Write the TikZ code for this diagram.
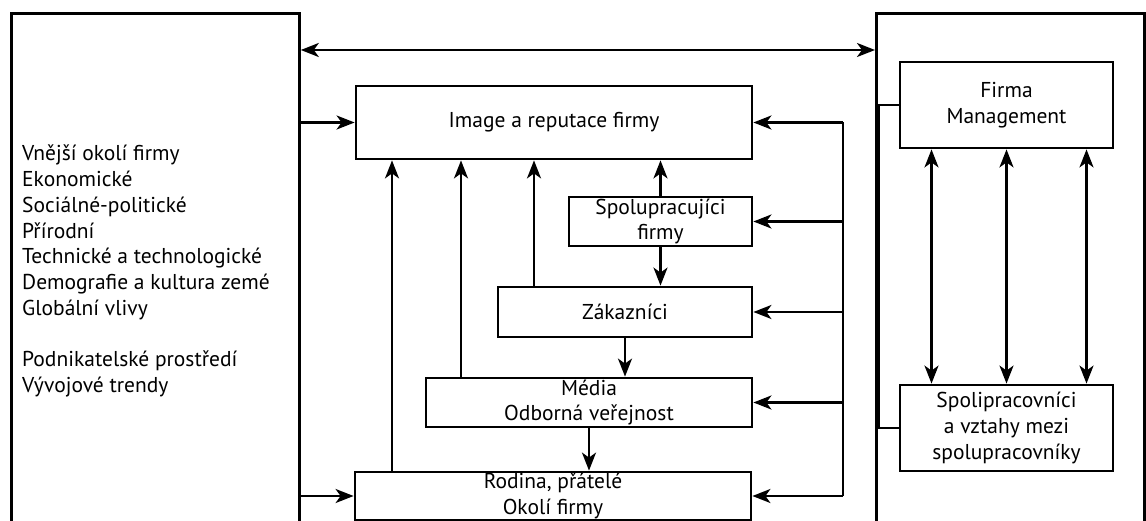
\documentclass[tikz,border=0pt]{standalone}
\usepackage{fontspec}
\setmainfont{PT Sans}
\usepackage{tikz}
\usetikzlibrary{arrows.meta}
\tikzset{
	box/.style={draw, line width=2.8pt, align=center, inner sep=0pt},
	link/.style={line width=2.4pt},
	>={Stealth[length=18pt,width=14pt,inset=5pt]}
}

\begin{document}
\begin{tikzpicture}[x=1pt,y=-1pt,font=\fontsize{21.5}{25.7}\selectfont]
	\useasboundingbox (0,0) rectangle (1146,521);
	\clip (0,0) rectangle (1146,521);
	\node [box, anchor=north west, minimum width=288pt, minimum height=560pt] (okoli) at (10,12) {};
	\node [anchor=north west, align=left, inner sep=0pt] (faktory) at (22,145) {Vnější okolí firmy\\Ekonomické\\Sociálné-politické\\Přírodní\\Technické a technologické\\Demografie a kultura zemé\\Globální vlivy\\[25.7pt]Podnikatelské prostředí\\Vývojové trendy};
	\node [box, anchor=north west, minimum width=268pt, minimum height=560pt] (vnitrni) at (875,12) {};
	%
	\node [box, minimum width=396pt, minimum height=73pt] (image) at (554,122.5) {Image a reputace firmy};
	\node [box, minimum width=183pt, minimum height=49pt] (spol) at (660.5,221.5) {Spolupracujíci\\firmy};
	\node [box, minimum width=254pt, minimum height=50pt] (zak) at (625,312) {Zákazníci};
	\node [box, minimum width=326pt, minimum height=49pt] (media) at (589,402.5) {Média\\Odborná veřejnost};
	\node [box, minimum width=396pt, minimum height=48pt] (rodina) at (553,496) {Rodina, přátelé\\Okolí firmy};
	\node [box, minimum width=213pt, minimum height=86pt] (firma) at (1006.5,105) {Firma\\Management};
	\node [box, minimum width=213pt, minimum height=86pt] (prac) at (1006.5,428) {Spolipracovníci\\a vztahy mezi\\spolupracovníky};
	%
	\coordinate (c1) at (392,0);
	\coordinate (c2) at (461,0);
	\coordinate (c3) at (534,0);
	\coordinate (bus) at (843,0);
	%
	\draw [link, <->] ([yshift=-38pt]okoli.north east) -- ([yshift=-38pt]vnitrni.north west);
	\draw [link, ->] (okoli.east |- image.west) -- (image.west);
	\draw [link, ->] (okoli.east |- rodina.west) -- (rodina.west);
	%
	\draw [link, ->] (rodina.north -| c1) -- (image.south -| c1);
	\draw [link, ->] (media.north -| c2) -- (image.south -| c2);
	\draw [link, ->] (zak.north -| c3) -- (image.south -| c3);
	\draw [link, ->] (spol.north) -- (spol.north |- image.south);
	\draw [link, ->] (spol.south) -- (spol.south |- zak.north);
	\draw [link, ->] (zak.south) -- (zak.south |- media.north);
	\draw [link, ->] (media.south) -- (media.south |- rodina.north);
	%
	\draw [link] (bus |- image.east) -- (bus |- rodina.east);
	\foreach \n in {image, spol, zak, media, rodina}
		\draw [link, ->] (bus |- \n.east) -- (\n.east);
	%
	\foreach \dx in {-75, 0, 80}
		\draw [link, <->] ([xshift=\dx pt]firma.south) -- ([xshift=\dx pt]prac.north);
	\draw [link] (firma.west) -- ++(-20,0) |- (prac.west);
\end{tikzpicture}
\end{document}
